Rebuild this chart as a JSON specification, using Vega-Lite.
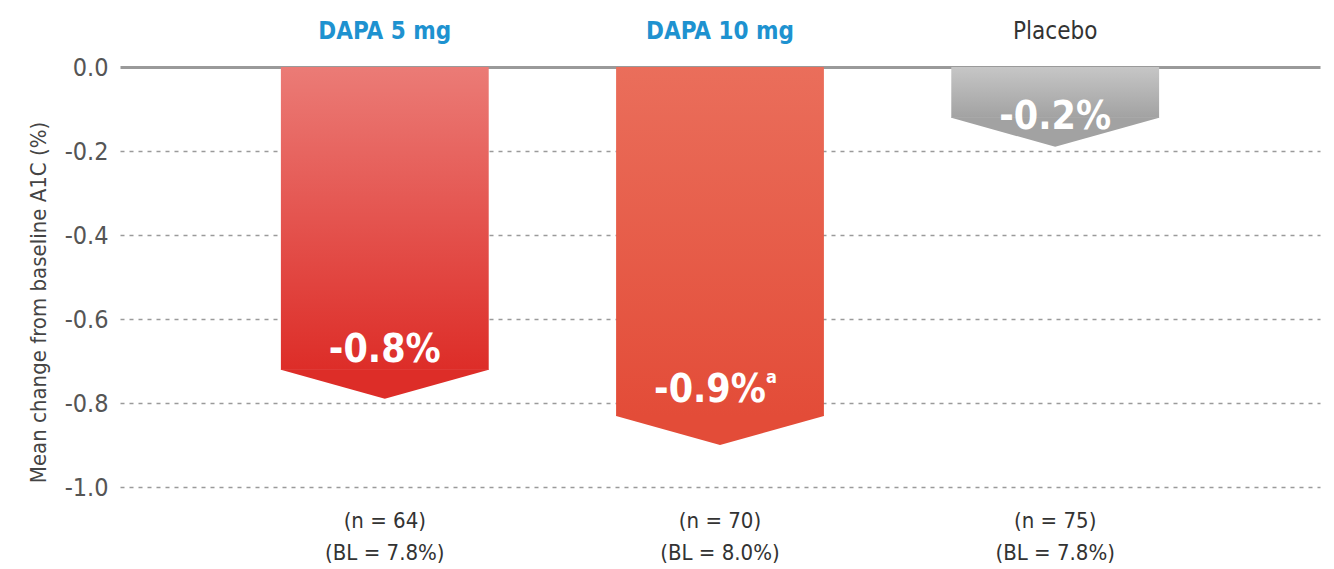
{
  "$schema": "https://vega.github.io/schema/vega-lite/v6.json",
  "width": 1200,
  "height": 420,
  "autosize": "none",
  "padding": {"left": 120, "top": 67, "right": 14, "bottom": 82},
  "background": "white",
  "config": {
    "view": {"stroke": null},
    "font": "Liberation Sans Narrow, DejaVu Sans Condensed, sans-serif"
  },
  "data": {
    "values": [
      {"group": "DAPA 5 mg", "value": -0.79, "label": "-0.8%", "note": "", "n_label": "(n = 64)", "bl_label": "(BL = 7.8%)"},
      {"group": "DAPA 10 mg", "value": -0.9, "label": "-0.9%", "note": "a", "n_label": "(n = 70)", "bl_label": "(BL = 8.0%)"},
      {"group": "Placebo", "value": -0.19, "label": "-0.2%", "note": "", "n_label": "(n = 75)", "bl_label": "(BL = 7.8%)"}
    ]
  },
  "encoding": {
    "x": {
      "field": "group",
      "type": "nominal",
      "sort": null,
      "scale": {"paddingInner": 0.38, "paddingOuter": 0.48},
      "axis": {
        "orient": "top",
        "title": null,
        "domain": false,
        "ticks": false,
        "labelAngle": 0,
        "labelFontSize": 24,
        "labelPadding": 24,
        "labelFontWeight": {"condition": {"test": "datum.value === 'Placebo'", "value": "normal"}, "value": "bold"},
        "labelColor": {"condition": {"test": "datum.value === 'Placebo'", "value": "#333333"}, "value": "#1E92D0"}
      }
    }
  },
  "layer": [
    {
      "mark": {"type": "bar", "yOffset": -29},
      "encoding": {
        "y": {
          "field": "value",
          "type": "quantitative",
          "scale": {"domain": [-1, 0], "nice": false},
          "axis": {
            "title": "Mean change from baseline A1C (%)",
            "values": [0, -0.2, -0.4, -0.6, -0.8, -1.0],
            "labelExpr": "replace(format(datum.value, '.1f'), '\u2212', '-')",
            "domain": false,
            "ticks": false,
            "labelFontSize": 25,
            "labelColor": "#555555",
            "labelPadding": 12,
            "grid": true,
            "gridColor": "#9a9a9a",
            "gridDash": {"condition": {"test": "datum.value === 0", "value": []}, "value": [4, 5]},
            "gridWidth": {"condition": {"test": "datum.value === 0", "value": 3}, "value": 1.5},
            "titleFontSize": 22,
            "titleFontWeight": "normal",
            "titleColor": "#444444",
            "titlePadding": 14,
            "titleY": 235
          }
        },
        "y2": {"datum": 0},
        "color": {
          "condition": [
            {"test": "datum.group === 'DAPA 5 mg'", "value": {"gradient": "linear", "x1": 0, "y1": 0, "x2": 0, "y2": 1, "stops": [{"offset": 0, "color": "#EB7B76"}, {"offset": 1, "color": "#DD2D28"}]}},
            {"test": "datum.group === 'DAPA 10 mg'", "value": {"gradient": "linear", "x1": 0, "y1": 0, "x2": 0, "y2": 1, "stops": [{"offset": 0, "color": "#EA6E5B"}, {"offset": 1, "color": "#E34C38"}]}}
          ],
          "value": {"gradient": "linear", "x1": 0, "y1": 0, "x2": 0, "y2": 1, "stops": [{"offset": 0, "color": "#C6C6C6"}, {"offset": 1, "color": "#A2A2A2"}]}
        }
      }
    },
    {
      "mark": {"type": "point", "shape": "M-1,-0.285L1,-0.285L1,-0.28L0,0L-1,-0.28Z", "size": 43189, "filled": true, "opacity": 1, "strokeWidth": 0},
      "encoding": {
        "y": {"field": "value", "type": "quantitative"},
        "color": {
          "condition": [
            {"test": "datum.group === 'DAPA 5 mg'", "value": "#DD2D28"},
            {"test": "datum.group === 'DAPA 10 mg'", "value": "#E34C38"}
          ],
          "value": "#A2A2A2"
        }
      }
    },
    {
      "transform": [{"filter": "datum.group === 'DAPA 5 mg'"}],
      "mark": {"type": "text", "dy": -37, "baseline": "alphabetic", "fontSize": 39, "fontWeight": "bold", "color": "white"},
      "encoding": {"y": {"field": "value", "type": "quantitative"}, "text": {"field": "label"}}
    },
    {
      "transform": [{"filter": "datum.group === 'DAPA 10 mg'"}],
      "mark": {"type": "text", "dy": -43, "dx": -10, "baseline": "alphabetic", "fontSize": 39, "fontWeight": "bold", "color": "white"},
      "encoding": {"y": {"field": "value", "type": "quantitative"}, "text": {"field": "label"}}
    },
    {
      "transform": [{"filter": "datum.group === 'DAPA 10 mg'"}],
      "mark": {"type": "text", "dy": -62, "dx": 46, "align": "left", "baseline": "alphabetic", "fontSize": 18, "fontWeight": "bold", "color": "white"},
      "encoding": {"y": {"field": "value", "type": "quantitative"}, "text": {"field": "note"}}
    },
    {
      "transform": [{"filter": "datum.group === 'Placebo'"}],
      "mark": {"type": "text", "dy": -18, "baseline": "alphabetic", "fontSize": 39, "fontWeight": "bold", "color": "white"},
      "encoding": {"y": {"field": "value", "type": "quantitative"}, "text": {"field": "label"}}
    },
    {
      "mark": {"type": "text", "dy": 34, "baseline": "middle", "fontSize": 22, "color": "#333333"},
      "encoding": {"y": {"datum": -1}, "text": {"field": "n_label"}}
    },
    {
      "mark": {"type": "text", "dy": 66, "baseline": "middle", "fontSize": 22, "color": "#333333"},
      "encoding": {"y": {"datum": -1}, "text": {"field": "bl_label"}}
    }
  ]
}
